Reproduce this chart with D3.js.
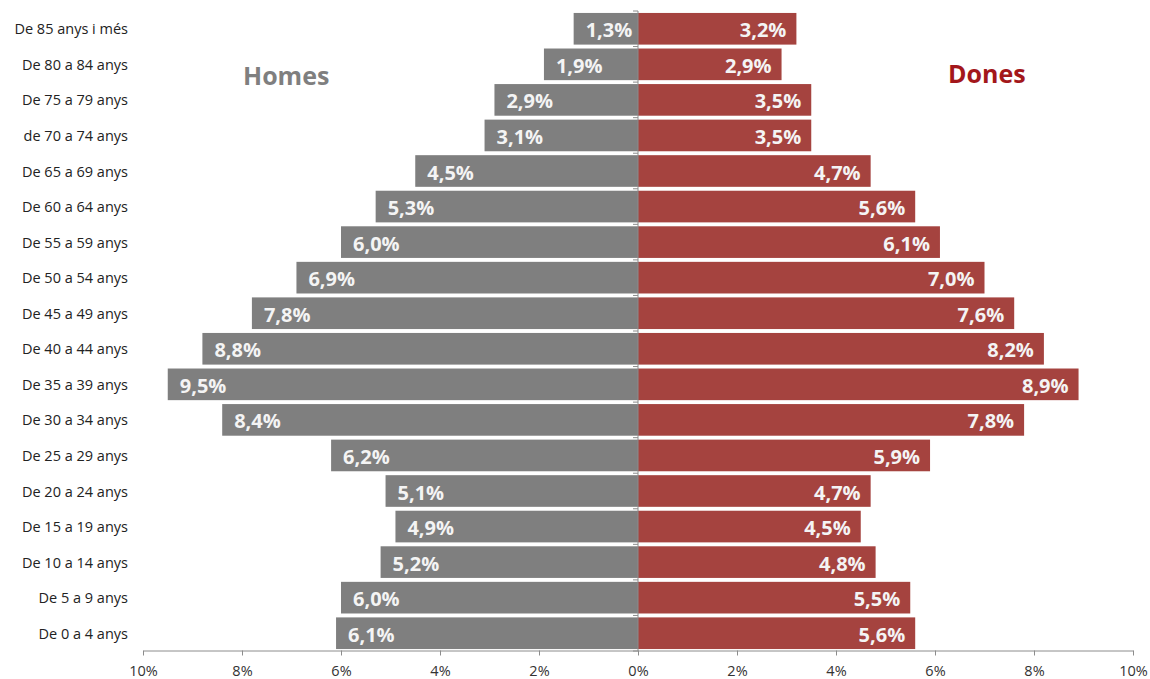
<!DOCTYPE html>
<html>
<head>
<meta charset="utf-8">
<script src="https://cdn.jsdelivr.net/npm/d3@7"></script>
<style>
  html, body { margin: 0; padding: 0; background: #fff; }
  svg { display: block; }
</style>
</head>
<body>
<svg id="chart" width="1150" height="679"></svg>
<script>
const categories = [
  "De 85 anys i més", "De 80 a 84 anys", "De 75 a 79 anys", "de 70 a 74 anys",
  "De 65 a 69 anys", "De 60 a 64 anys", "De 55 a 59 anys", "De 50 a 54 anys",
  "De 45 a 49 anys", "De 40 a 44 anys", "De 35 a 39 anys", "De 30 a 34 anys",
  "De 25 a 29 anys", "De 20 a 24 anys", "De 15 a 19 anys", "De 10 a 14 anys",
  "De 5 a 9 anys", "De 0 a 4 anys"
];
const homes = [1.3, 1.9, 2.9, 3.1, 4.5, 5.3, 6.0, 6.9, 7.8, 8.8, 9.5, 8.4, 6.2, 5.1, 4.9, 5.2, 6.0, 6.1];
const dones = [3.2, 2.9, 3.5, 3.5, 4.7, 5.6, 6.1, 7.0, 7.6, 8.2, 8.9, 7.8, 5.9, 4.7, 4.5, 4.8, 5.5, 5.6];
const tickValues = [-10, -8, -6, -4, -2, 0, 2, 4, 6, 8, 10];
const seriesNames = ["Homes", "Dones"];

const svg = d3.select("#chart");
const x = d3.scaleLinear().domain([-10, 10]).range([143, 1133]);
const y = d3.scaleBand().domain(categories).range([11, 651]).paddingInner(0.11).paddingOuter(0.055);

const grey = "#7f7f7f", red = "#a5433f";
const fmt = v => v.toFixed(1).replace(".", ",") + "%";

// bars
svg.append("g").selectAll("rect").data(categories).join("rect")
  .attr("x", (d, i) => x(-homes[i]))
  .attr("y", d => y(d))
  .attr("width", (d, i) => x(0) - x(-homes[i]))
  .attr("height", y.bandwidth())
  .attr("fill", grey);

svg.append("g").selectAll("rect").data(categories).join("rect")
  .attr("x", x(0))
  .attr("y", d => y(d))
  .attr("width", (d, i) => x(dones[i]) - x(0))
  .attr("height", y.bandwidth())
  .attr("fill", red);

// zero axis line with ticks at band boundaries
const zg = svg.append("g");
zg.append("line").attr("x1", x(0)).attr("x2", x(0)).attr("y1", 11).attr("y2", 651)
  .attr("stroke", "#8c8c8c").attr("stroke-width", 1);
const bounds = categories.map(d => y(d) - (y.step() - y.bandwidth()) / 2).concat([651]);
zg.selectAll("line.tk").data(bounds).join("line").attr("class", "tk")
  .attr("x1", x(0) - 5).attr("x2", x(0)).attr("y1", d => d).attr("y2", d => d)
  .attr("stroke", "#8c8c8c");

// value labels
const lblFont = "'Open Sans', sans-serif";
svg.append("g").selectAll("text").data(categories).join("text")
  .attr("x", (d, i) => x(-homes[i]) + 12)
  .attr("y", d => y(d) + y.bandwidth() / 2 + 8.5)
  .attr("text-anchor", "start")
  .attr("font-family", lblFont).attr("font-weight", "bold").attr("font-size", 20)
  .attr("fill", "#f4f4f4")
  .text((d, i) => fmt(homes[i]));

svg.append("g").selectAll("text").data(categories).join("text")
  .attr("x", (d, i) => x(dones[i]) - 10)
  .attr("y", d => y(d) + y.bandwidth() / 2 + 8.5)
  .attr("text-anchor", "end")
  .attr("font-family", lblFont).attr("font-weight", "bold").attr("font-size", 20)
  .attr("fill", "#f4f4f4")
  .text((d, i) => fmt(dones[i]));

// category labels
svg.append("g").selectAll("text").data(categories).join("text")
  .attr("x", 128)
  .attr("y", d => y(d) + y.bandwidth() / 2 + 5.5)
  .attr("text-anchor", "end")
  .attr("font-family", lblFont).attr("font-size", 14.5)
  .attr("fill", "#222")
  .text(d => d);

// bottom axis
const ax = svg.append("g").attr("transform", "translate(0,650.5)")
  .call(d3.axisBottom(x).tickValues(tickValues).tickSize(5).tickSizeOuter(0)
    .tickFormat(v => Math.abs(v) + "%"));
ax.select(".domain").attr("stroke", "#8c8c8c");
ax.selectAll(".tick line").attr("stroke", "#8c8c8c");
ax.selectAll(".tick text").attr("font-family", lblFont).attr("font-size", 14.5)
  .attr("fill", "#333").attr("y", 25.5).attr("dy", "0");

// series titles
svg.append("text").attr("x", 243).attr("y", 85)
  .attr("font-family", lblFont).attr("font-weight", "bold").attr("font-size", 25)
  .attr("fill", grey).text(seriesNames[0]);
svg.append("text").attr("x", 948).attr("y", 83)
  .attr("font-family", lblFont).attr("font-weight", "bold").attr("font-size", 25)
  .attr("fill", "#a3171b").text(seriesNames[1]);
</script>
</body>
</html>
